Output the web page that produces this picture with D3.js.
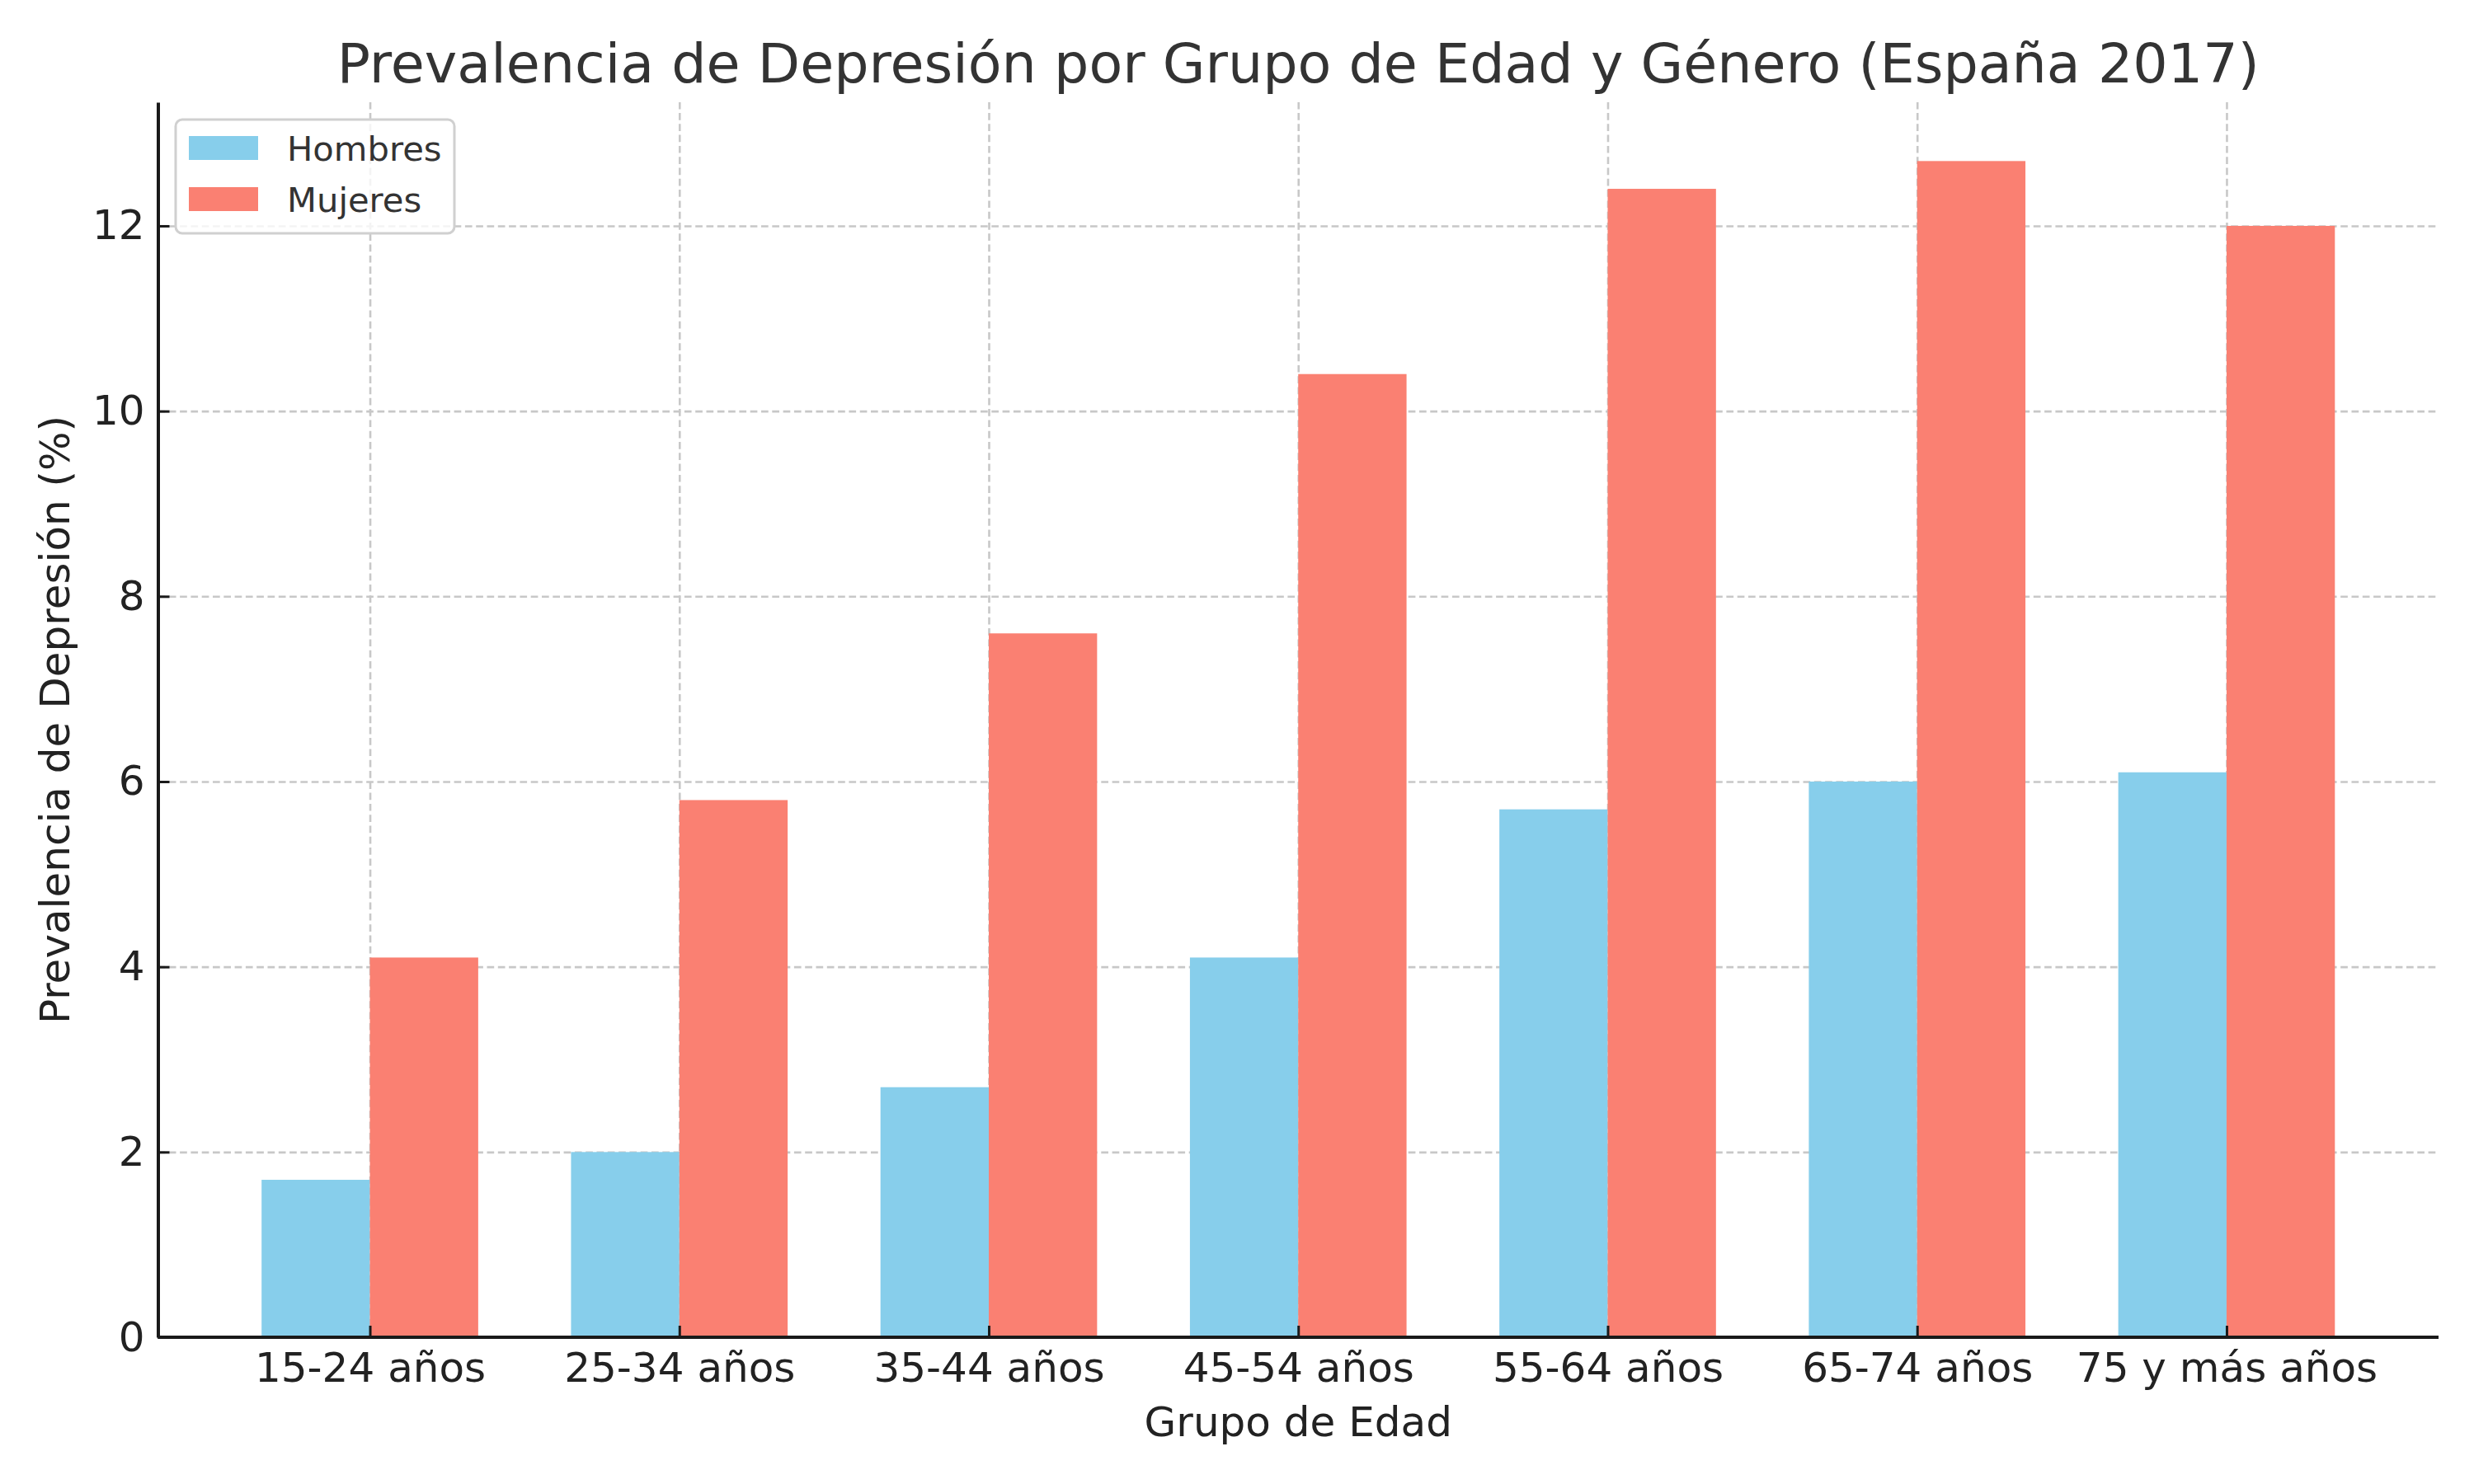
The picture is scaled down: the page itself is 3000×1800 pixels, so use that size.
<!DOCTYPE html>
<html>
<head>
<meta charset="utf-8">
<script src="https://cdn.jsdelivr.net/npm/d3@7"></script>
<style>
  body { margin: 0; background: #fff; }
  svg { display: block; font-family: "DejaVu Sans", sans-serif; }
</style>
</head>
<body>
<svg id="chart" width="3000" height="1800"></svg>
<script>
// data
const grupos = ["15-24 años", "25-34 años", "35-44 años", "45-54 años", "55-64 años", "65-74 años", "75 y más años"]
const hombres = [1.7, 2.0, 2.7, 4.1, 5.7, 6.0, 6.1]
const mujeres = [4.1, 5.8, 7.6, 10.4, 12.4, 12.7, 12.0]
const yTicks = [0, 2, 4, 6, 8, 10, 12]
const series = [
  { name: "Hombres", values: hombres, color: "#87CEEB", offset: -0.175 },
  { name: "Mujeres", values: mujeres, color: "#FA8072", offset: 0.175 }
]

const barWidth = 0.35
let svg = d3.select("#chart")
let margin = { top: 124, right: 43, bottom: 178, left: 191.5 }
let width = 3000, height = 1800

let x = d3.scaleLinear()
    .domain([-0.685, grupos.length - 1 + 0.685])
    .range([margin.left, width - margin.right])

let y = d3.scaleLinear()
    .domain([0, 13.335])
    .range([height - margin.bottom, margin.top])

// grid (behind the bars)
let yGrid = svg.append("g")
    .attr("transform", `translate(${margin.left},0)`)
    .call(d3.axisLeft(y).tickValues(yTicks).tickSize(-(width - margin.right - margin.left)).tickFormat(""))
yGrid.select(".domain").remove()

let xGrid = svg.append("g")
    .attr("transform", `translate(0,${height - margin.bottom})`)
    .call(d3.axisBottom(x).tickValues(d3.range(grupos.length)).tickSize(-(height - margin.bottom - margin.top)).tickFormat(""))
xGrid.select(".domain").remove()

svg.selectAll(".tick line")
    .style("stroke", "#c8c8c8")
    .style("stroke-width", "2.6px")
    .style("stroke-dasharray", "8.7,4.6")

// bars
series.forEach(function (s) {
  svg.append("g")
    .selectAll("rect")
    .data(s.values)
    .enter()
    .append("rect")
      .attr("x", function (d, i) { return x(i + s.offset - barWidth / 2) })
      .attr("width", x(barWidth) - x(0))
      .attr("y", function (d) { return y(d) })
      .attr("height", function (d) { return y(0) - y(d) })
      .style("fill", s.color)
})

// axes, ticks pointing inward
let yAxis = svg.append("g")
    .attr("transform", `translate(${margin.left},0)`)
    .call(d3.axisLeft(y).tickValues(yTicks).tickSizeInner(-14).tickSizeOuter(0).tickPadding(16))

let xAxis = svg.append("g")
    .attr("transform", `translate(0,${height - margin.bottom})`)
    .call(d3.axisBottom(x).tickValues(d3.range(grupos.length)).tickSizeInner(-14).tickSizeOuter(0)
      .tickPadding(18).tickFormat(function (d) { return grupos[d] }))

xAxis.select(".domain").attr("d", `M${margin.left},0H${width - margin.right}`)

svg.selectAll(".domain")
    .style("stroke", "#1a1a1a")
    .style("stroke-width", "4px")
yAxis.selectAll(".tick line").style("stroke", "#1a1a1a").style("stroke-width", "3px")
xAxis.selectAll(".tick line").style("stroke", "#1a1a1a").style("stroke-width", "3px")

yAxis.selectAll("text")
    .style("font-family", "DejaVu Sans")
    .style("font-size", "50px")
    .style("fill", "#222")
xAxis.selectAll("text")
    .style("font-family", "DejaVu Sans")
    .style("font-size", "50px")
    .style("fill", "#222")
    .attr("dy", "0.71em")

// title and labels
svg.append("text")
  .attr("text-anchor", "middle")
  .attr("x", (margin.left + width - margin.right) / 2)
  .attr("y", 100)
  .text("Prevalencia de Depresión por Grupo de Edad y Género (España 2017)")
  .style("font-size", "66.7px")
  .style("fill", "#333")

svg.append("text")
  .attr("text-anchor", "middle")
  .attr("x", (margin.left + width - margin.right) / 2)
  .attr("y", 1742)
  .text("Grupo de Edad")
  .style("font-size", "50px")
  .style("fill", "#222")

svg.append("text")
  .attr("text-anchor", "middle")
  .attr("transform", `translate(84,${(margin.top + height - margin.bottom) / 2}) rotate(-90)`)
  .text("Prevalencia de Depresión (%)")
  .style("font-size", "50px")
  .style("fill", "#222")

// legend
let legend = svg.append("g").attr("transform", "translate(213,145)")
legend.append("rect")
  .attr("width", 338)
  .attr("height", 138)
  .attr("rx", 8)
  .style("fill", "#fff")
  .style("fill-opacity", 0.8)
  .style("stroke", "#d0d0d0")
  .style("stroke-width", "3px")

let items = legend.selectAll(".item")
  .data(series)
  .enter()
  .append("g")
    .attr("class", "item")
    .attr("transform", function (d, i) { return `translate(0,${i * 62})` })

items.append("rect")
  .attr("x", 16)
  .attr("y", 20)
  .attr("width", 84)
  .attr("height", 29)
  .style("fill", function (d) { return d.color })

items.append("text")
  .attr("x", 135)
  .attr("y", 50)
  .text(function (d) { return d.name })
  .style("font-size", "41.7px")
  .style("fill", "#333")
</script>
</body>
</html>
